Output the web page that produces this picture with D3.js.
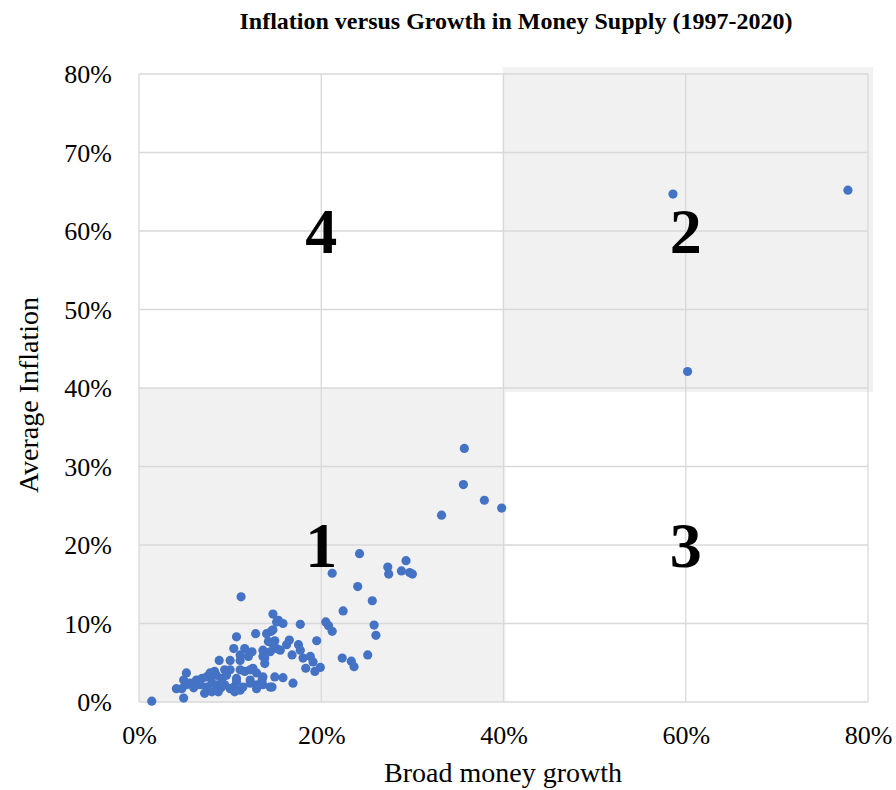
<!DOCTYPE html>
<html>
<head>
<meta charset="utf-8">
<script src="https://cdn.jsdelivr.net/npm/d3@7"></script>
<style>
  html, body { margin: 0; padding: 0; background: #ffffff; }
  svg { display: block; font-family: "Liberation Serif", "Times New Roman", serif; }
</style>
</head>
<body>
<svg id="chart" width="896" height="790"></svg>
<script>
// ---- Data (percent) ----
const moneyGrowth = [
  77.8, 58.6, 60.2,
  35.7, 35.6, 37.9, 39.8, 33.2, 24.2, 21.2, 24.0, 27.3, 27.4, 29.3, 28.8, 29.7, 30.0,
  11.2, 25.6, 22.4, 25.8, 26.0, 25.1, 23.3, 23.6, 22.3, 20.5, 20.8, 21.2, 19.5, 17.7,
  14.7, 15.3, 15.8, 12.8, 10.7, 14.0, 14.5, 14.7, 14.9, 16.5, 16.2, 17.5, 17.7, 16.8,
  18.0, 18.8, 19.1, 18.3, 19.3, 19.9, 15.8, 16.9, 14.6, 13.6, 13.8, 14.4, 15.1, 15.5,
  10.4, 11.6, 12.4, 11.1, 10.0, 9.4, 12.5, 12.9, 11.6, 13.6, 13.6, 12.2, 10.7, 10.4,
  9.3, 11.1, 12.9, 14.4, 15.1, 8.8, 11.1, 12.0, 10.0, 11.1, 12.2, 13.8, 5.2, 4.9,
  4.1, 4.7, 4.9, 1.4, 5.6, 6.3, 6.9, 7.4, 8.0, 8.5, 6.7, 7.4, 8.0, 8.5, 7.2, 8.0,
  8.7, 9.1, 9.6, 9.4, 10.7, 11.4, 12.2, 12.9, 13.5, 14.9, 10.0, 10.5, 7.8, 8.3,
  5.2, 13.6, 14.7, 14.2, 6.0, 9.0
];
const avgInflation = [
  65.2, 64.7, 42.1,
  32.3, 27.7, 25.7, 24.7, 23.8, 18.9, 16.4, 14.7, 17.2, 16.3, 18.0, 16.7, 16.5, 16.3,
  13.4, 12.9, 11.6, 9.8, 8.5, 6.0, 5.2, 4.5, 5.6, 10.2, 9.7, 9.0, 7.8, 9.9,
  11.2, 10.4, 10.0, 8.7, 8.3, 8.7, 9.0, 9.2, 7.8, 7.9, 7.3, 7.3, 6.6, 6.0,
  5.6, 5.8, 5.1, 4.3, 3.9, 4.4, 3.1, 2.4, 1.9, 5.8, 4.9, 6.4, 6.8, 6.6,
  6.8, 6.8, 6.4, 5.3, 5.3, 4.1, 4.3, 3.7, 3.9, 3.2, 2.2, 2.8, 3.0, 1.9,
  2.2, 1.5, 1.7, 1.9, 10.2, 5.3, 6.0, 5.8, 4.1, 4.1, 4.1, 5.6, 3.7, 2.8,
  1.7, 1.7, 0.5, 0.1, 2.4, 2.8, 3.0, 3.2, 3.3, 3.4, 2.2, 1.9, 2.4, 2.2, 1.1, 1.3,
  1.3, 3.0, 3.4, 2.2, 2.6, 1.9, 2.4, 2.2, 2.8, 3.2, 1.7, 1.3, 3.7, 3.9,
  2.2, 6.6, 7.4, 7.7, 1.8, 1.8
];
const xTicks = [0, 20, 40, 60, 80];
const yTicks = [0, 10, 20, 30, 40, 50, 60, 70, 80];
const quadrantNames = ["1", "2", "3", "4"];
const quadrantX = [20, 60, 60, 20];
const quadrantY = [20, 60, 20, 60];
const shadedX0 = [0, 40];
const shadedX1 = [40, 80];
const shadedY0 = [0, 40];
const shadedY1 = [40, 80];

const titleText = "Inflation versus Growth in Money Supply (1997-2020)";
const xTitle = "Broad money growth";
const yTitle = "Average Inflation";

// ---- Layout ----
const svg = d3.select("#chart");
const mLeft = 139, mRight = 868, mTop = 74, mBottom = 702;

const x = d3.scaleLinear().domain([0, 80]).range([mLeft, mRight]);
const y = d3.scaleLinear().domain([0, 80]).range([mBottom, mTop]);
const fmt = d => d + "%";

// Shaded quadrants
const shades = shadedX0.map((d, i) => ({ x0: d, x1: shadedX1[i], y0: shadedY0[i], y1: shadedY1[i] }));
svg.append("g").selectAll("rect").data(shades).join("rect")
  .attr("x", (d, i) => x(d.x0) - (i === 1 ? 1 : 0))
  .attr("y", (d, i) => y(d.y1) - (i === 1 ? 7 : 0))
  .attr("width", (d, i) => x(d.x1) - x(d.x0) + (i === 1 ? 6 : 2))
  .attr("height", (d, i) => y(d.y0) - y(d.y1) + (i === 1 ? 11 : 0))
  .attr("fill", "#f1f1f1");

// Gridlines
const grid = svg.append("g");
grid.selectAll("line.h").data(yTicks).join("line")
  .attr("class", "h")
  .attr("x1", mLeft).attr("x2", mRight)
  .attr("y1", d => y(d)).attr("y2", d => y(d))
  .attr("stroke", "#d9d9d9").attr("stroke-width", 1.3);
grid.selectAll("line.v").data(xTicks).join("line")
  .attr("class", "v")
  .attr("y1", mTop).attr("y2", mBottom)
  .attr("x1", d => x(d)).attr("x2", d => x(d))
  .attr("stroke", "#d9d9d9").attr("stroke-width", 1.3);

// Axes (labels only)
const yAxis = svg.append("g")
  .attr("transform", `translate(${mLeft},0)`)
  .call(d3.axisLeft(y).tickValues(yTicks).tickFormat(fmt).tickSize(0).tickPadding(27));
const xAxis = svg.append("g")
  .attr("transform", `translate(0,${mBottom})`)
  .call(d3.axisBottom(x).tickValues(xTicks).tickFormat(fmt).tickSize(0).tickPadding(24));
[yAxis, xAxis].forEach(a => {
  a.select(".domain").remove();
  a.selectAll("text")
    .attr("font-family", "'Liberation Serif', 'Times New Roman', serif")
    .attr("font-size", 26)
    .attr("fill", "#000");
});
yAxis.selectAll("text").attr("dy", "0.34em");

// Points
const pts = moneyGrowth.map((d, i) => ({ gx: d, inf: avgInflation[i] }));
svg.append("g").selectAll("circle").data(pts).join("circle")
  .attr("cx", d => x(d.gx))
  .attr("cy", d => y(d.inf))
  .attr("r", 4.6)
  .attr("fill", "#4472c4");

// Quadrant labels
svg.append("g").selectAll("text").data(quadrantNames).join("text")
  .attr("x", (d, i) => x(quadrantX[i]))
  .attr("y", (d, i) => y(quadrantY[i]))
  .attr("dy", "0.35em")
  .attr("text-anchor", "middle")
  .attr("font-size", 64)
  .attr("font-weight", "bold")
  .attr("fill", "#000")
  .text(d => d);

// Title
svg.append("text")
  .attr("x", 516).attr("y", 29)
  .attr("text-anchor", "middle")
  .attr("font-size", 24)
  .attr("font-weight", "bold")
  .attr("fill", "#000")
  .text(titleText);

// Axis titles
svg.append("text")
  .attr("x", 503).attr("y", 782)
  .attr("text-anchor", "middle")
  .attr("font-size", 28)
  .attr("fill", "#000")
  .text(xTitle);
svg.append("text")
  .attr("transform", "translate(38,395) rotate(-90)")
  .attr("text-anchor", "middle")
  .attr("font-size", 28)
  .attr("fill", "#000")
  .text(yTitle);
</script>
</body>
</html>
